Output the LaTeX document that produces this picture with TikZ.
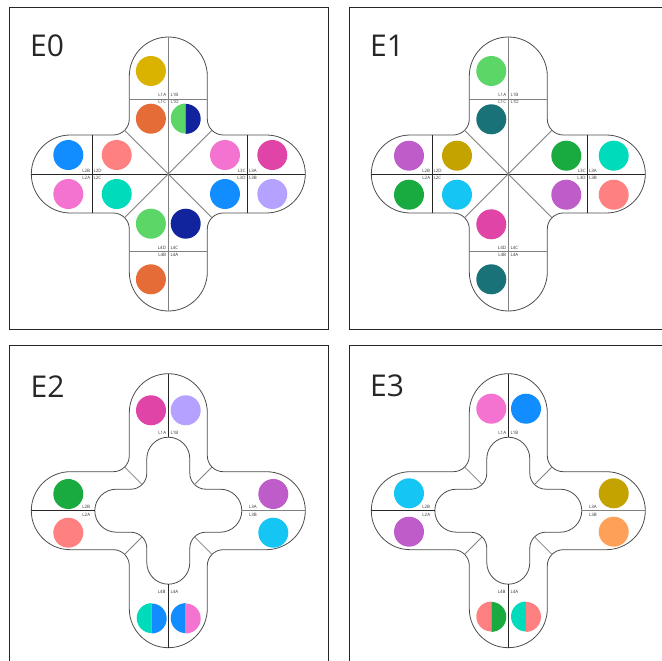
\documentclass[tikz,border=0pt]{standalone}
\usepackage{fontspec}
\setmainfont{Open Sans}
\usepackage{xcolor}
\definecolor{pbblue}{HTML}{118DFF}
\definecolor{pbnavy}{HTML}{12239E}
\definecolor{pborange}{HTML}{E66C37}
\definecolor{pbmagenta}{HTML}{E044A7}
\definecolor{pbgold}{HTML}{D9B300}
\definecolor{pbteal}{HTML}{197278}
\definecolor{pbgreen}{HTML}{1AAB40}
\definecolor{pbcyan}{HTML}{15C6F4}
\definecolor{pbapricot}{HTML}{FFA058}
\definecolor{pbpurple}{HTML}{BE5DC9}
\definecolor{pbpink}{HTML}{F472D0}
\definecolor{pblavender}{HTML}{B5A1FF}
\definecolor{pbolive}{HTML}{C4A200}
\definecolor{pbsalmon}{HTML}{FF8080}
\definecolor{pbaqua}{HTML}{00DBBC}
\definecolor{pblime}{HTML}{5BD667}
\usepackage{tikz}
\tikzset{
  panel/.style={draw=black!85,line width=1pt},
  outline/.style={draw=black!70,line width=0.8pt},
  divider/.style={draw=black!50,line width=0.8pt},
  axis/.style={draw=black!85,line width=0.8pt},
  slot/.style={circle,inner sep=0pt,minimum size=30pt},
  tag/.style={inner sep=0pt,font=\fontsize{4.5}{5}\selectfont,text=black!80},
  title/.style={anchor=base west,inner sep=0pt,font=\fontsize{30}{36}\selectfont,text=black!85}
}

% plus-shaped outline: half width, arm length, fillet radius
\newcommand{\crossshape}[4][]{%
  \pgfmathsetmacro{\crw}{#2}%
  \pgfmathsetmacro{\crl}{#3-#2}%
  \pgfmathsetmacro{\crf}{#2+#4}%
  \draw[#1] (\crf,\crw) -- (\crl,\crw) arc[start angle=90,end angle=-90,radius=\crw]
    -- (\crf,-\crw) arc[start angle=90,end angle=180,radius=#4]
    -- (\crw,-\crl) arc[start angle=0,end angle=-180,radius=\crw]
    -- (-\crw,-\crf) arc[start angle=0,end angle=90,radius=#4]
    -- (-\crl,-\crw) arc[start angle=-90,end angle=-270,radius=\crw]
    -- (-\crf,\crw) arc[start angle=270,end angle=360,radius=#4]
    -- (-\crw,\crl) arc[start angle=180,end angle=0,radius=\crw]
    -- (\crw,\crf) arc[start angle=180,end angle=270,radius=#4] -- cycle;}

% two-coloured slot: name, position, left colour, right colour
\newcommand{\halfslot}[4]{%
  \node[slot] (#1) at #2 {};
  \fill[#3] (#1.north) arc[start angle=90,end angle=270,radius=15] -- cycle;
  \fill[#4] (#1.south) arc[start angle=-90,end angle=90,radius=15] -- cycle;}

\newcommand{\starzone}{%
  \crossshape[outline]{39}{137}{16}
  \draw[divider] (0,137) -- (0,-137);
  \draw[axis] (-137,0) -- (137,0);
  \draw[divider] (-43.7,43.7) -- (43.7,-43.7);
  \draw[divider] (43.7,43.7) -- (-43.7,-43.7);
  \draw[divider] (-39,74.7) -- (39,74.7);
  \draw[divider] (-39,-77.3) -- (39,-77.3);
  \draw[axis] (-76.3,39) -- (-76.3,-39);
  \draw[axis] (79,39) -- (79,-39);
  \node[tag,anchor=south east] (l1a) at (-2,77.3) {L1A};
  \node[tag,anchor=south west] (l1b) at (2,77.3) {L1B};
  \node[tag,anchor=north east] (l1c) at (-2,73.9) {L1C};
  \node[tag,anchor=north west] (l1d) at (2,73.9) {L1D};
  \node[tag,anchor=south east] (l2b) at (-78,1.5) {L2B};
  \node[tag,anchor=south west] (l2d) at (-75,1.5) {L2D};
  \node[tag,anchor=north east] (l2a) at (-78,-1.9) {L2A};
  \node[tag,anchor=north west] (l2c) at (-75,-1.9) {L2C};
  \node[tag,anchor=south east] (l3c) at (77.5,1.5) {L3C};
  \node[tag,anchor=south west] (l3a) at (80.5,1.5) {L3A};
  \node[tag,anchor=north east] (l3d) at (77.5,-1.9) {L3D};
  \node[tag,anchor=north west] (l3b) at (80.5,-1.9) {L3B};
  \node[tag,anchor=south east] (l4d) at (-2,-75.5) {L4D};
  \node[tag,anchor=south west] (l4c) at (2,-75.5) {L4C};
  \node[tag,anchor=north east] (l4b) at (-2,-79.1) {L4B};
  \node[tag,anchor=north west] (l4a) at (2,-79.1) {L4A};}

\newcommand{\ringzone}{%
  \crossshape[outline]{39}{137}{16}
  \crossshape[outline]{21.5}{73.5}{16}
  \draw[axis] (0,73.5) -- (0,137);
  \draw[axis] (0,-73.5) -- (0,-137);
  \draw[axis] (-73.5,0) -- (-137,0);
  \draw[divider] (73.5,0) -- (137,0);
  \foreach \sx/\sy in {1/1,1/-1,-1/1,-1/-1}
    \draw[divider] (26.2*\sx,26.2*\sy) -- (43.7*\sx,43.7*\sy);
  \node[tag,anchor=south east] (l1a) at (-2,76) {L1A};
  \node[tag,anchor=south west] (l1b) at (2,76) {L1B};
  \node[tag,anchor=south east] (l2b) at (-78,1.8) {L2B};
  \node[tag,anchor=north east] (l2a) at (-78,-2.4) {L2A};
  \node[tag,anchor=south west] (l3a) at (80.5,1.6) {L3A};
  \node[tag,anchor=north west] (l3b) at (80.5,-2.4) {L3B};
  \node[tag,anchor=north east] (l4b) at (-2.5,-79.8) {L4B};
  \node[tag,anchor=north west] (l4a) at (2,-79.8) {L4A};}

\begin{document}
\begin{tikzpicture}[x=1pt,y=1pt]
  \useasboundingbox (0,0) rectangle (662,-661);
  \clip (0,0) rectangle (662,-661);

  % E0
  \draw[panel] (9,-8) rectangle (328,-329);
  \node[title] (e0) at (30,-56.7) {E0};
  \begin{scope}[shift={(168.3,-174)},name prefix=e0-]
    \starzone
    \node[slot,fill=pbgold] (t1) at (-17.4,103) {};
    \node[slot,fill=pborange] (t2) at (-17.4,55.3) {};
    \halfslot{t3}{(17.4,55.3)}{pblime}{pbnavy}
    \node[slot,fill=pbblue] (w1) at (-100,19) {};
    \node[slot,fill=pbsalmon] (w2) at (-51.6,19) {};
    \node[slot,fill=pbpink] (w3) at (-100,-20) {};
    \node[slot,fill=pbaqua] (w4) at (-51.6,-20) {};
    \node[slot,fill=pbpink] (r1) at (56.7,19) {};
    \node[slot,fill=pbmagenta] (r2) at (104,19) {};
    \node[slot,fill=pbblue] (r3) at (56.7,-20) {};
    \node[slot,fill=pblavender] (r4) at (104,-20) {};
    \node[slot,fill=pblime] (b1) at (-17.4,-49.7) {};
    \node[slot,fill=pbnavy] (b2) at (17.4,-49.7) {};
    \node[slot,fill=pborange] (b3) at (-17.4,-105.3) {};
  \end{scope}

  % E1
  \draw[panel] (349,-8) rectangle (668,-329);
  \node[title] (e1) at (370,-56.2) {E1};
  \begin{scope}[shift={(508.3,-174)},name prefix=e1-]
    \starzone
    \node[slot,fill=pblime] (t1) at (-17,103) {};
    \node[slot,fill=pbteal] (t2) at (-17,54.7) {};
    \node[slot,fill=pbpurple] (w1) at (-99.3,18.3) {};
    \node[slot,fill=pbolive] (w2) at (-51.3,18.3) {};
    \node[slot,fill=pbgreen] (w3) at (-99.3,-20.7) {};
    \node[slot,fill=pbcyan] (w4) at (-51.3,-20.7) {};
    \node[slot,fill=pbgreen] (r1) at (58,18.3) {};
    \node[slot,fill=pbaqua] (r2) at (105.4,18.3) {};
    \node[slot,fill=pbpurple] (r3) at (58,-20.7) {};
    \node[slot,fill=pbsalmon] (r4) at (105.4,-20.7) {};
    \node[slot,fill=pbmagenta] (b1) at (-17,-50.3) {};
    \node[slot,fill=pbteal] (b3) at (-17,-105.3) {};
  \end{scope}

  % E2
  \draw[panel] (9,-345) rectangle (328,-666);
  \node[title] (e2) at (30.5,-397.5) {E2};
  \begin{scope}[shift={(168.3,-510.7)},name prefix=e2-]
    \ringzone
    \node[slot,fill=pbmagenta] (t1) at (-17.3,100.4) {};
    \node[slot,fill=pblavender] (t2) at (17.4,100.4) {};
    \node[slot,fill=pbgreen] (w1) at (-100,16.7) {};
    \node[slot,fill=pbsalmon] (w2) at (-100,-22) {};
    \node[slot,fill=pbpurple] (r1) at (105,16.7) {};
    \node[slot,fill=pbcyan] (r2) at (105,-22) {};
    \halfslot{b1}{(-16.6,-107.6)}{pbaqua}{pbblue}
    \halfslot{b2}{(17.4,-107.6)}{pbblue}{pbpink}
  \end{scope}

  % E3
  \draw[panel] (349,-345) rectangle (668,-666);
  \node[title] (e3) at (370,-396.7) {E3};
  \begin{scope}[shift={(508.3,-510.7)},name prefix=e3-]
    \ringzone
    \node[slot,fill=pbpink] (t1) at (-17,102) {};
    \node[slot,fill=pbblue] (t2) at (17.7,102) {};
    \node[slot,fill=pbcyan] (w1) at (-99.3,17.4) {};
    \node[slot,fill=pbpurple] (w2) at (-99.3,-21) {};
    \node[slot,fill=pbolive] (r1) at (105.4,17.4) {};
    \node[slot,fill=pbapricot] (r2) at (105.4,-21) {};
    \halfslot{b1}{(-17,-106)}{pbsalmon}{pbgreen}
    \halfslot{b2}{(17.7,-106)}{pbaqua}{pbsalmon}
  \end{scope}
\end{tikzpicture}
\end{document}
